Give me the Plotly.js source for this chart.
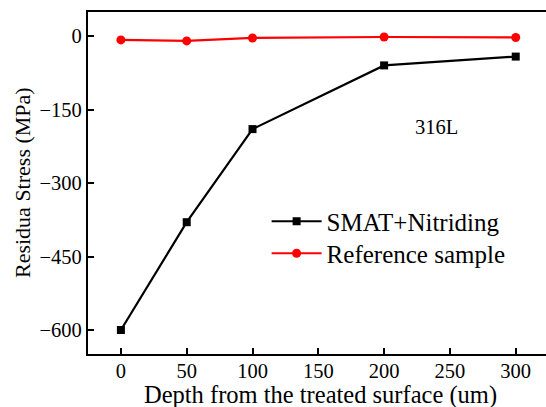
<!DOCTYPE html>
<html><head><meta charset="utf-8">
<script src="https://cdn.plot.ly/plotly-3.0.1.min.js"></script>
<style>html,body{margin:0;padding:0;background:#fff}</style>
</head><body><div id="chart" style="width:546px;height:407px"></div>
<script>
const depth = [0, 50, 100, 200, 300];
const smatNitriding = [-600, -380, -190, -60, -42];
const referenceSample = [-8, -10, -4, -2, -3];
const xTicks = [0, 50, 100, 150, 200, 250, 300];
const yTicks = [0, -150, -300, -450, -600];

const font = {family: '"Liberation Serif", "Times New Roman", serif', color: '#000'};
const f = s => Object.assign({size: s}, font);
const traces = [
  {x: depth, y: smatNitriding, name: 'SMAT+Nitriding', mode: 'lines+markers', legend: 'legend',
   line: {color: '#000', width: 2.2}, marker: {symbol: 'square', size: 8, color: '#000'}},
  {x: depth, y: referenceSample, name: 'Reference sample', mode: 'lines+markers', legend: 'legend2',
   line: {color: '#ff0000', width: 2.2}, marker: {symbol: 'circle', size: 9, color: '#ff0000'}}
];
const legStyle = {xanchor: 'left', yanchor: 'top', bgcolor: 'rgba(0,0,0,0)', font: f(25), itemwidth: 50};
const layout = {
  width: 546, height: 407,
  margin: {l: 88, r: 0, t: 12, b: 53},
  paper_bgcolor: '#fff', plot_bgcolor: '#fff',
  font: f(20),
  showlegend: true,
  legend: Object.assign({x: 0.39, y: 0.4547}, legStyle),
  legend2: Object.assign({x: 0.39, y: 0.3611}, legStyle),
  xaxis: {range: [-25, 323], tickvals: xTicks, ticktext: xTicks.map(String),
    showgrid: false, zeroline: false, showline: true, linecolor: '#000', linewidth: 2.2,
    mirror: true, ticks: 'inside', ticklen: 6, tickwidth: 2, tickcolor: '#000',
    ticklabelstandoff: -3, tickfont: f(20.5)},
  yaxis: {range: [-649, 49], tickvals: yTicks,
    showgrid: false, zeroline: false, showline: true, linecolor: '#000', linewidth: 2.2,
    ticks: 'inside', ticklen: 6, tickwidth: 2, tickcolor: '#000',
    tickfont: f(20.5)},
  annotations: [
    {text: '316L', x: 240, y: -186, xref: 'x', yref: 'y', showarrow: false, font: f(20.5)},
    {text: 'Depth from the treated surface (um)', xref: 'paper', yref: 'paper',
     xanchor: 'center', yanchor: 'middle', showarrow: false, font: f(24.5)},
    {text: 'Residua Stress (MPa)', textangle: -90, xref: 'paper', yref: 'paper',
     xanchor: 'center', yanchor: 'middle', showarrow: false, font: f(22)}
  ]
};
// place axis-title annotations at pixel positions converted to paper coordinates
const pw = 546 - 88 - 0, ph = 407 - 12 - 53;
layout.annotations[1].x = (320 - 88) / pw; layout.annotations[1].y = (354 - 395) / ph;
layout.annotations[2].x = (22 - 88) / pw; layout.annotations[2].y = (354 - 183) / ph;
Plotly.newPlot('chart', traces, layout, {displayModeBar: false, staticPlot: true});
</script></body></html>
